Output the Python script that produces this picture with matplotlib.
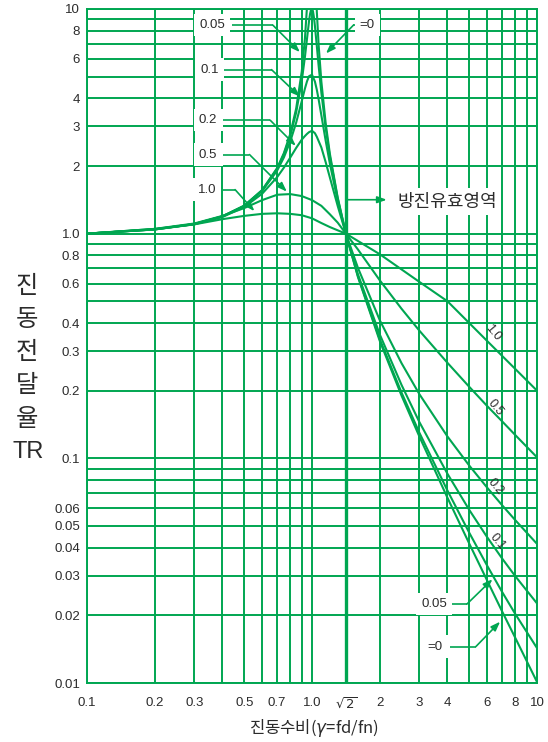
import matplotlib
matplotlib.use("Agg")
import matplotlib.pyplot as plt
from matplotlib.ticker import NullLocator

# Vibration transmissibility TR against frequency ratio (fd/fn) for several damping ratios

ratio_z0 = [0.1, 0.2, 0.3, 0.4, 0.5, 0.6, 0.7, 0.75, 0.8, 0.85, 0.9, 0.93, 0.95, 0.97, 0.99,
            1.01, 1.03, 1.05, 1.07, 1.1, 1.15, 1.2, 1.3, 1.414, 1.6, 2, 2.5, 3, 4, 5, 6, 7, 8, 10]
tr_z0 = [1.0, 1.045, 1.105, 1.195, 1.333, 1.563, 1.961, 2.286, 2.778, 3.604, 5.263, 7.40, 10.26, 16.9, 50.3,
         49.8, 16.4, 9.76, 6.90, 4.76, 3.10, 2.27, 1.45, 1.0, 0.641, 0.333, 0.190, 0.125, 0.0667, 0.0417,
         0.0286, 0.0208, 0.0159, 0.0101]

ratio_z005 = [0.1, 0.2, 0.3, 0.4, 0.5, 0.6, 0.7, 0.75, 0.8, 0.85, 0.9, 0.93, 0.95, 0.97, 0.98, 0.99, 1.0,
              1.01, 1.02, 1.03, 1.05, 1.07, 1.1, 1.15, 1.2, 1.3, 1.414, 1.6, 2, 2.5, 3, 4, 5, 6, 7, 8, 10]
tr_z005 = [1.0, 1.045, 1.104, 1.194, 1.332, 1.559, 1.947, 2.259, 2.720, 3.458, 4.776, 6.123, 7.379, 8.845,
           9.506, 9.951, 10.05, 9.760, 9.162, 8.401, 6.853, 5.583, 4.244, 2.940, 2.208, 1.436, 1.0, 0.646,
           0.339, 0.196, 0.130, 0.0718, 0.0466, 0.0333, 0.0254, 0.0203, 0.0143]

ratio_z01 = [0.1, 0.2, 0.3, 0.4, 0.5, 0.6, 0.7, 0.75, 0.8, 0.85, 0.9, 0.93, 0.95, 0.97, 1.0, 1.03, 1.05,
             1.07, 1.1, 1.15, 1.2, 1.3, 1.414, 1.6, 2, 2.5, 3, 4, 5, 6, 7, 8, 10]
tr_z01 = [1.0, 1.044, 1.103, 1.192, 1.328, 1.547, 1.909, 2.186, 2.571, 3.117, 3.882, 4.425, 4.766, 5.023,
          5.099, 4.753, 4.373, 3.957, 3.367, 2.590, 2.052, 1.401, 1.0, 0.659, 0.356, 0.212, 0.145, 0.0853,
          0.0589, 0.0446, 0.0358, 0.0299, 0.0226]

ratio_z02 = [0.1, 0.2, 0.3, 0.4, 0.5, 0.6, 0.7, 0.75, 0.8, 0.85, 0.9, 0.93, 0.95, 0.97, 1.0, 1.03, 1.05,
             1.1, 1.15, 1.2, 1.3, 1.414, 1.6, 2, 2.5, 3, 4, 5, 6, 7, 8, 10]
tr_z02 = [1.0, 1.044, 1.10, 1.186, 1.314, 1.505, 1.785, 1.968, 2.180, 2.407, 2.62, 2.72, 2.78, 2.83,
          2.87, 2.80, 2.70, 2.42, 2.08, 1.78, 1.33, 1.0, 0.704, 0.412, 0.265, 0.193, 0.125, 0.0928,
          0.0741, 0.0618, 0.0531, 0.0416]

ratio_z05 = [0.1, 0.2, 0.3, 0.4, 0.5, 0.6, 0.7, 0.8, 0.9, 1.0, 1.1, 1.2, 1.3, 1.414, 1.6, 2, 2.5, 3, 4,
             5, 6, 7, 8, 10]
tr_z05 = [1.0, 1.05, 1.11, 1.20, 1.30, 1.41, 1.49, 1.50, 1.47, 1.41, 1.33, 1.22, 1.12, 1.0, 0.85, 0.62,
          0.463, 0.370, 0.266, 0.208, 0.171, 0.146, 0.127, 0.101]

ratio_z10 = [0.1, 0.2, 0.3, 0.4, 0.5, 0.6, 0.7, 0.8, 0.9, 1.0, 1.1, 1.2, 1.3, 1.414, 2, 3, 4, 6, 8, 10]
tr_z10 = [1.0, 1.05, 1.10, 1.16, 1.20, 1.225, 1.232, 1.225, 1.208, 1.17, 1.115, 1.07, 1.035, 1.0, 0.81,
          0.61, 0.50, 0.333, 0.25, 0.20]

x_tick_values = [0.1, 0.2, 0.3, 0.5, 0.7, 1.0, 1.41421, 2, 3, 4, 6, 8, 10]
x_tick_labels = ["0.1", "0.2", "0.3", "0.5", "0.7", "1.0", r"$\sqrt{2}$", "2", "3", "4", "6", "8", "10"]
y_tick_values = [0.01, 0.02, 0.03, 0.04, 0.05, 0.06, 0.1, 0.2, 0.3, 0.4, 0.6, 0.8, 1.0,
                 2, 3, 4, 6, 8, 10]
y_tick_labels = ["0.01", "0.02", "0.03", "0.04", "0.05", "0.06", "0.1", "0.2", "0.3", "0.4",
                 "0.6", "0.8", "1.0", "2", "3", "4", "6", "8", "10"]

GREEN = "#00A651"
INK = "#2b2b2b"
SANS = ["Liberation Sans", "Noto Sans CJK KR", "DejaVu Sans"]
KOR = ["Noto Sans CJK KR", "DejaVu Sans"]

plt.rcParams["font.family"] = SANS

fig = plt.figure(figsize=(5.48, 7.42), dpi=100)
ax = fig.add_axes([0.1588, 0.0795, 0.8212, 0.9084])
ax.set_xscale("log")
ax.set_yscale("log")
ax.set_xlim(0.1, 10)
ax.set_ylim(0.01, 10)

# log-paper grid
v_lines = [0.1, 0.2, 0.3, 0.4, 0.5, 0.6, 0.7, 0.8, 0.9, 1.0, 2, 3, 4, 5, 6, 7, 8, 9, 10]
h_lines = [m * d for d in (0.01, 0.1, 1.0) for m in range(1, 10)] + [10]
for v in v_lines:
    ax.axvline(v, color=GREEN, lw=1.4, zorder=1)
for h in h_lines:
    ax.axhline(h, color=GREEN, lw=1.4, zorder=1)
ax.axvline(1.41421, color=GREEN, lw=2.4, zorder=1)

for sp in ax.spines.values():
    sp.set_color(GREEN)
    sp.set_linewidth(1.4)

ax.set_xticks(x_tick_values)
ax.set_xticklabels(x_tick_labels)
ax.set_yticks(y_tick_values)
ax.set_yticklabels(y_tick_labels)
ax.xaxis.set_minor_locator(NullLocator())
ax.yaxis.set_minor_locator(NullLocator())
ax.tick_params(axis="both", length=0, labelsize=9.5, labelcolor=INK)
ax.tick_params(axis="x", pad=10)
ax.tick_params(axis="y", pad=5)

# transmissibility curves
curves = [(ratio_z0, tr_z0), (ratio_z005, tr_z005), (ratio_z01, tr_z01),
          (ratio_z02, tr_z02), (ratio_z05, tr_z05), (ratio_z10, tr_z10)]
for rx, ty in curves:
    ax.plot(rx, ty, color=GREEN, lw=1.5, zorder=4, solid_joinstyle="round")

box = dict(boxstyle="square,pad=0.4", fc="white", ec="none")
arrow = dict(arrowstyle="-|>,head_length=0.55,head_width=0.2", color=GREEN, lw=1.2,
             shrinkA=0, shrinkB=0)

# damping labels with leader lines (axes-fraction positions)
leaders = [
    ("0.05", (0.278, 0.976), (0.322, 0.413), (0.473, 0.936)),
    ("0.1", (0.273, 0.910), (0.303, 0.410), (0.473, 0.870)),
    ("0.2", (0.269, 0.835), (0.301, 0.407), (0.464, 0.797)),
    ("0.5", (0.269, 0.784), (0.301, 0.361), (0.444, 0.729)),
    ("1.0", (0.266, 0.732), (0.303, 0.329), (0.372, 0.700)),
    ("=0", (0.623, 0.976), (0.604, 0.592), (0.531, 0.934)),
    ("0.05", (0.771, 0.117), (0.807, 0.844), (0.901, 0.154)),
    ("=0", (0.773, 0.054), (0.807, 0.864), (0.918, 0.091)),
]
for text, (tx, ty), (x0, x1), tip in leaders:
    ax.text(tx, ty, text, transform=ax.transAxes, ha="center", va="center", fontsize=9.5,
            color=INK, bbox=box, zorder=6)
    ax.plot([x0, x1], [ty, ty], transform=ax.transAxes, color=GREEN, lw=1.2, zorder=5,
            solid_capstyle="butt")
    ax.annotate("", xy=tip, xycoords="axes fraction", xytext=(x1, ty),
                textcoords="axes fraction", arrowprops=arrow, zorder=5)

# labels along the high-frequency branches
for text, (tx, ty) in [("1.0", (0.902, 0.519)), ("0.5", (0.907, 0.408)),
                       ("0.2", (0.907, 0.291)), ("0.1", (0.911, 0.209))]:
    ax.text(tx, ty, text, transform=ax.transAxes, ha="center", va="center", fontsize=9,
            color=INK, rotation=-50, rotation_mode="anchor", zorder=6)

# isolation region marker
ax.annotate("", xy=(0.666, 0.717), xycoords="axes fraction", xytext=(0.5756, 0.717),
            textcoords="axes fraction", arrowprops=arrow, zorder=5)
ax.text(0.689, 0.714, "방진유효영역", transform=ax.transAxes, ha="left", va="center",
        fontsize=13, color=INK, family=KOR,
        bbox=dict(boxstyle="square,pad=0.25", fc="white", ec="none"), zorder=6)

# axis titles
for i, ch in enumerate(["진", "동", "전", "달", "율"]):
    fig.text(27 / 548, 1 - (285.7 + 33.2 * i) / 742, ch, ha="center", va="center",
             fontsize=17.5, color=INK, family=KOR)
fig.text(28 / 548, 1 - 451.7 / 742, "TR", ha="center", va="center", fontsize=17, color=INK)
fig.text(314 / 548, 1 - 728 / 742, "진동수비($\\gamma$=fd/fn)", ha="center", va="center",
         fontsize=12, color=INK, family=KOR)

fig.savefig("out.png", dpi=100)
